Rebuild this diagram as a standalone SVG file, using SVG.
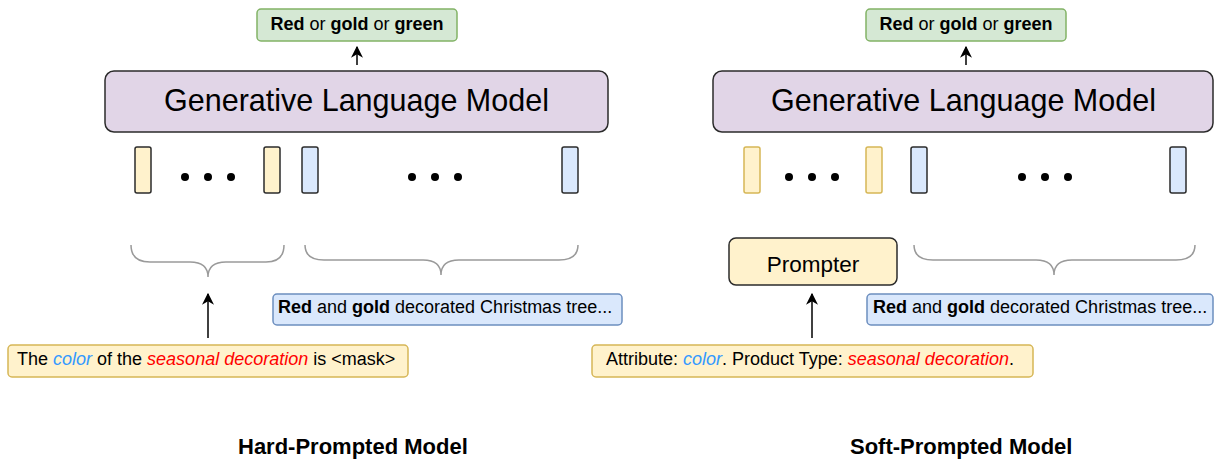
<svg xmlns="http://www.w3.org/2000/svg" width="1215" height="459" viewBox="0 0 1215 459">
<style>
text{font-family:"Liberation Sans",Arial,Helvetica,sans-serif;fill:#000}
.t18{font-size:18px}
.b{font-weight:bold}
.blue{fill:#3399ff;font-style:italic}
.red{fill:#ff0000;font-style:italic}
.green{fill:#d5e8d4;stroke:#82b366;stroke-width:1.5}
.glm{fill:#e1d5e7;stroke:#2b2b2b;stroke-width:1.5}
.yel{fill:#fff2cc;stroke:#d6b656;stroke-width:1.5}
.yelk{fill:#fff2cc;stroke:#2b2b2b;stroke-width:1.5}
.blu{fill:#dae8fc;stroke:#6c8ebf;stroke-width:1.5}
.bluk{fill:#dae8fc;stroke:#2b2b2b;stroke-width:1.5}
.brace{fill:none;stroke:#9a9a9a;stroke-width:1.5}
.arr{stroke:#000;stroke-width:1.5;fill:none;marker-end:url(#ah)}
</style>
<defs>
<marker id="ah" viewBox="0 0 10 10" refX="9" refY="5" markerWidth="12" markerHeight="12" markerUnits="userSpaceOnUse" orient="auto">
<path d="M0,0 L10,5 L0,10 L3,5 Z" fill="#000"/>
</marker>
</defs>

<!-- Left: Hard-prompted -->
<g id="out-left">
<rect class="green" x="257" y="9" width="200" height="32" rx="4"/>
<text class="t18" x="357" y="30" text-anchor="middle"><tspan class="b">Red</tspan> or <tspan class="b">gold</tspan> or <tspan class="b">green</tspan></text>
</g>
<g id="glm-left">
<rect class="glm" x="105" y="71" width="503" height="61" rx="9"/>
<text x="356.5" y="111" font-size="30.5" text-anchor="middle">Generative Language Model</text>
</g>
<g id="tokens-left">
<rect class="yelk" x="135" y="147" width="16" height="46" rx="2"/>
<rect class="yelk" x="264" y="147" width="16" height="46" rx="2"/>
<rect class="bluk" x="302" y="147" width="16" height="46" rx="2"/>
<rect class="bluk" x="562" y="147" width="16" height="46" rx="2"/>
<circle cx="185" cy="177" r="4"/><circle cx="208" cy="177" r="4"/><circle cx="231" cy="177" r="4"/>
<circle cx="412" cy="177" r="4"/><circle cx="435" cy="177" r="4"/><circle cx="458" cy="177" r="4"/>
</g>
<g id="braces-left">
<path class="brace" d="M131,245 Q131,262 150,262 L190,262 Q208,262 208,277 Q208,262 226,262 L266,262 Q284,262 284,245"/>
<path class="brace" d="M305,245 Q305,260 324,260 L423,260 Q441,260 441,275 Q441,260 459,260 L559,260 Q578,260 578,245"/>
</g>
<g id="text-left">
<rect class="blu" x="273" y="294" width="349" height="31" rx="4"/>
<text class="t18" x="278" y="313"><tspan class="b">Red</tspan> and <tspan class="b">gold</tspan> decorated Christmas tree...</text>
</g>
<g id="prompt-left">
<rect class="yel" x="8" y="345" width="400" height="32" rx="4"/>
<text class="t18" x="17" y="365">The <tspan class="blue">color</tspan> of the <tspan class="red">seasonal decoration</tspan> is &lt;mask&gt;</text>
</g>
<g id="label-left">
<text x="238" y="454" font-size="22" class="b">Hard-Prompted Model</text>
</g>

<!-- Right: Soft-prompted -->
<g id="out-right">
<rect class="green" x="866" y="9" width="200" height="32" rx="4"/>
<text class="t18" x="966" y="30" text-anchor="middle"><tspan class="b">Red</tspan> or <tspan class="b">gold</tspan> or <tspan class="b">green</tspan></text>
</g>
<g id="glm-right">
<rect class="glm" x="713" y="71" width="500" height="61" rx="9"/>
<text x="963.5" y="111" font-size="30.5" text-anchor="middle">Generative Language Model</text>
</g>
<g id="tokens-right">
<rect class="yel" x="744" y="147" width="16" height="46" rx="2"/>
<rect class="yel" x="866" y="147" width="16" height="46" rx="2"/>
<rect class="bluk" x="911" y="147" width="16" height="46" rx="2"/>
<rect class="bluk" x="1170" y="147" width="16" height="46" rx="2"/>
<circle cx="789" cy="177" r="4"/><circle cx="812" cy="177" r="4"/><circle cx="835" cy="177" r="4"/>
<circle cx="1022" cy="177" r="4"/><circle cx="1045" cy="177" r="4"/><circle cx="1068" cy="177" r="4"/>
</g>
<g id="braces-right">
<path class="brace" d="M914,245 Q914,260 933,260 L1036,260 Q1054,260 1054,275 Q1054,260 1072,260 L1176,260 Q1195,260 1195,245"/>
</g>
<g id="prompter">
<rect class="yelk" x="729" y="238" width="168" height="47" rx="7"/>
<text x="813" y="272" font-size="22.5" text-anchor="middle">Prompter</text>
</g>
<g id="text-right">
<rect class="blu" x="867" y="294" width="346" height="31" rx="4"/>
<text class="t18" x="873" y="313"><tspan class="b">Red</tspan> and <tspan class="b">gold</tspan> decorated Christmas tree...</text>
</g>
<g id="prompt-right">
<rect class="yel" x="592" y="345" width="441" height="32" rx="4"/>
<text class="t18" x="606" y="365">Attribute: <tspan class="blue">color</tspan>. Product Type: <tspan class="red">seasonal decoration</tspan>.</text>
</g>
<g id="label-right">
<text x="850" y="454" font-size="22" class="b">Soft-Prompted Model</text>
</g>

<g id="connectors">
<line class="arr" x1="357" y1="65" x2="357" y2="47"/>
<line class="arr" x1="966" y1="65" x2="966" y2="47"/>
<line class="arr" x1="208" y1="338" x2="208" y2="294"/>
<line class="arr" x1="812" y1="338" x2="812" y2="294"/>
</g>
</svg>
